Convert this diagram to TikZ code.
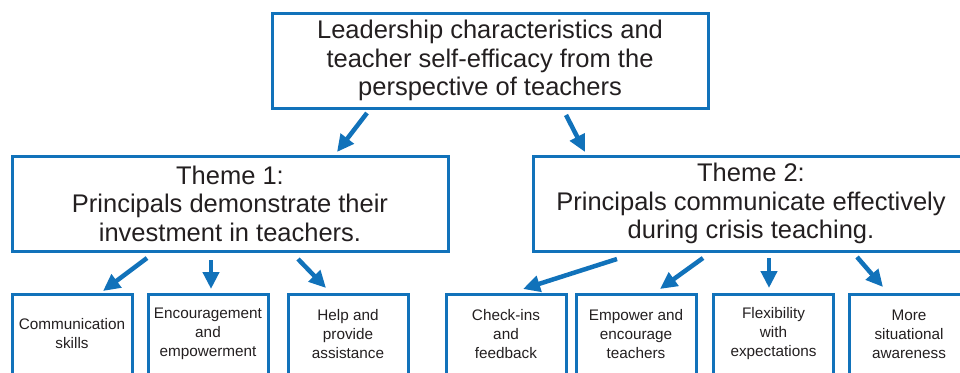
\documentclass[tikz,border=0pt]{standalone}
\usepackage{fontspec}
\setmainfont{Liberation Sans}
\usetikzlibrary{arrows.meta}
\definecolor{bblue}{HTML}{1172BA}
\definecolor{txt}{HTML}{231F20}
\tikzset{
  bigbox/.style={draw=bblue, line width=3pt, minimum width=436pt, minimum height=95pt, inner sep=0pt,
    align=center, text=txt, font=\fontsize{25.5}{28.5}\selectfont},
  smallbox/.style={draw=bblue, line width=3pt, minimum width=120pt, minimum height=80pt, inner sep=0pt,
    align=center, text=txt, font=\fontsize{15.3}{19}\selectfont},
  arr/.style={draw=bblue, line width=4.5pt, -{Triangle[length=17pt,width=16pt]}, fill=bblue}
}
\begin{document}
\begin{tikzpicture}[x=1pt,y=-1pt]
\useasboundingbox (0,0) rectangle (960,372);
\clip (0,0) rectangle (960,372);
\node[bigbox] (top) at (490,60.5) {Leadership characteristics and\\teacher self-efficacy from the\\perspective of teachers};
\node[bigbox] (t1) at (230,203.5) {Theme 1:\\Principals demonstrate their\\investment in teachers.};
\node[bigbox] (t2) at (751,203.5) {Theme 2:\\Principals communicate effectively\\during crisis teaching.};
\node[smallbox] (b1) at (72,334) {Communication\\skills};
\node[smallbox] (b2) at (208,334) {Encouragement\\and\\empowerment};
\node[smallbox] (b3) at (348,334) {Help and\\provide\\assistance};
\node[smallbox] (b4) at (506,334) {Check-ins\\and\\feedback};
\node[smallbox] (b5) at (636,334) {Empower and\\encourage\\teachers};
\node[smallbox] (b6) at (773.5,334) {Flexibility\\with\\expectations};
\node[smallbox] (b7) at (909,334) {More\\situational\\awareness};
\coordinate (s1) at (367,113); \coordinate (e1) at (337,152);
\coordinate (s2) at (566,115); \coordinate (e2) at (585,152);
\coordinate (s3) at (147,258); \coordinate (e3) at (103,291);
\coordinate (s4) at (211,260); \coordinate (e4) at (211,289);
\coordinate (s5) at (298,259); \coordinate (e5) at (326,288);
\coordinate (s6) at (617,259); \coordinate (e6) at (523,289);
\coordinate (s7) at (703,258); \coordinate (e7) at (660,289);
\coordinate (s8) at (769,258); \coordinate (e8) at (769,288);
\coordinate (s9) at (857,257); \coordinate (e9) at (883,287);
\foreach \i in {1,...,9} \draw[arr] (s\i) -- (e\i);
\end{tikzpicture}
\end{document}
